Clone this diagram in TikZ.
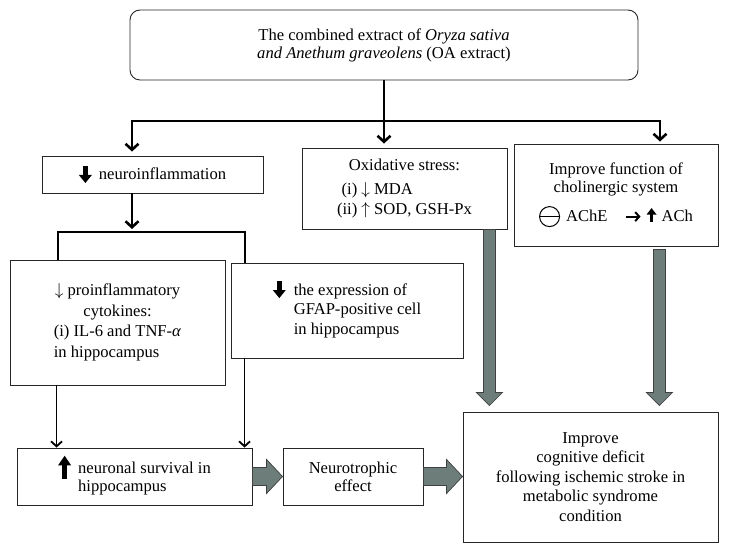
\documentclass[tikz,border=0pt]{standalone}
\usepackage{fontspec}
\setmainfont{Liberation Serif}
\usetikzlibrary{arrows.meta,calc}
\definecolor{arrowgray}{RGB}{108,125,122}
\newcommand\myDown{\tikz[x=1pt,y=1pt,baseline=3pt]{\fill[black] (-2.3,17) rectangle (2.3,7.5); \fill[black] (-6.5,8) -- (6.5,8) -- (0,0) -- cycle;}}
\newcommand\myUp{\tikz[x=1pt,y=1pt,baseline=5pt]{\fill[black] (-2.3,0) rectangle (2.3,14); \fill[black] (-6.5,13.5) -- (6.5,13.5) -- (0,23) -- cycle;}}
\newcommand\mySmallUp{\tikz[x=1pt,y=1pt,baseline=1pt]{\fill[black] (-1.8,0) rectangle (1.8,8); \fill[black] (-5,7.5) -- (5,7.5) -- (0,14) -- cycle;}}
\newcommand\myInhib{\tikz[x=1pt,y=1pt,baseline=-4.5pt]{\draw[black,line width=1pt] (0,0) circle (10pt); \draw[black,line width=1pt] (-10,0) -- (10,0);}}
\newcommand\myRight{\tikz[x=1pt,y=1pt,baseline=-4.5pt]{\draw[black,line width=2pt,-{Straight Barb[length=4pt,width=9pt]}] (0,0) -- (15,0);}}
\newcommand\fatH[2]{\filldraw[fat] let \p1=(#1), \p2=(#2) in (\x1,\y1+9pt) -- (\x2-16pt,\y1+9pt) -- (\x2-16pt,\y1+17pt) -- (\x2,\y1) -- (\x2-16pt,\y1-17pt) -- (\x2-16pt,\y1-9pt) -- (\x1,\y1-9pt) -- cycle;}
\newcommand\fatV[2]{\filldraw[fat] let \p1=(#1), \p2=(#2) in (\x1-6pt,\y1) -- (\x1+6pt,\y1) -- (\x1+6pt,\y2+13pt) -- (\x1+13pt,\y2+13pt) -- (\x1,\y2) -- (\x1-13pt,\y2+13pt) -- (\x1-6pt,\y2+13pt) -- cycle;}
\tikzset{
  fs/.style={font=\fontsize{16.6}{19.5}\selectfont},
  box/.style={draw=black!85, line width=0.9pt, fill=white, inner sep=0pt, align=center, fs},
  trunk/.style={line width=2.6pt},
  harr/.style={trunk, -{Straight Barb[length=6pt,width=13pt]}},
  tarr/.style={line width=1.8pt, -{Straight Barb[length=5pt,width=11pt]}},
  fat/.style={fill=arrowgray, draw=black!75, line width=0.7pt},
}
\begin{document}
\begin{tikzpicture}[x=1pt,y=-1pt]
\useasboundingbox (0,0) rectangle (729,553);
% boxes
\node[box, rounded corners=10pt, minimum width=508pt, minimum height=70pt] (top) at (384,45)
  {The combined extract of \textit{Oryza sativa}\\[-1.5pt]\textit{and Anethum graveolens} (OA extract)};
\node[box, minimum width=221pt, minimum height=37pt] (neuro) at (152.5,174.5)
  {\myDown\hspace{7pt}neuroinflammation};
\node[box, minimum width=205pt, minimum height=81pt] (ox) at (404.5,188.5)
  {\raisebox{2.5pt}{\begin{tabular}{@{}r@{\hspace{4pt}}l@{}}\multicolumn{2}{@{}c@{}}{Oxidative stress:}\\[4.5pt](i) & $\downarrow$ MDA\\(ii) & $\uparrow$ SOD, GSH-Px\end{tabular}}};
\node[box, minimum width=204pt, minimum height=102pt] (chol) at (616,195)
  {Improve function of\\[-1.5pt]cholinergic system\\[9pt]\myInhib\hspace{6pt}AChE\hspace{17pt}\myRight\hspace{5pt}\mySmallUp\hspace{5pt}ACh};
\node[box, minimum width=215pt, minimum height=125pt, font=\fontsize{16.6}{20.5}\selectfont] (b1) at (117.5,322.5)
  {\begin{tabular}{@{}l@{}}\multicolumn{1}{@{}c@{}}{$\downarrow$ proinflammatory}\\\multicolumn{1}{@{}c@{}}{cytokines:}\\(i) IL-6 and TNF-\textit{α}\\in hippocampus\end{tabular}};
\node[box, minimum width=232pt, minimum height=95pt] (b2) at (347,310.5)
  {\myDown\hspace{8pt}\begin{tabular}[t]{@{}l@{}}the expression of\\GFAP-positive cell\\in hippocampus\end{tabular}};
\node[box, minimum width=235pt, minimum height=57pt, font=\fontsize{16.6}{18}\selectfont] (neur) at (134.5,476.5)
  {\myUp\hspace{7pt}\begin{tabular}[t]{@{}l@{}}neuronal survival in\\hippocampus\end{tabular}};
\node[box, minimum width=140pt, minimum height=57pt, font=\fontsize{16.6}{18}\selectfont] (troph) at (353,476.5)
  {Neurotrophic\\effect};
\node[box, minimum width=255pt, minimum height=130pt] (cog) at (590.5,477)
  {Improve\\cognitive deficit\\following ischemic stroke in\\metabolic syndrome\\condition};
% trunk connectors
\coordinate (jl) at (132,121);
\coordinate (jr) at (660,121);
\draw[trunk, {Straight Barb[length=6pt,width=13pt]}-{Straight Barb[length=6pt,width=13pt]}]
  ($(jl |- neuro.north)+(0,-4)$) -- (jl) -- (jr) -- ($(jr |- chol.north)+(0,-2)$);
\draw[harr] (top.south) -- ($(top.south |- ox.north)+(0,-4)$);
\coordinate (jd) at (132,229);
\draw[harr] (neuro.south -| jd) -- (jd);
\coordinate (jb1) at (58,232);
\coordinate (jb2) at (245,232);
\draw[trunk] (jb1 |- b1.north) -- (jb1) -- (jb2) -- (jb2 |- b2.north);
% thin arrows
\coordinate (t1) at ($(b1.south west)+(47,0)$);
\coordinate (t2) at ($(b2.south west)+(14,0)$);
\draw[tarr] (t1) -- (t1 |- neur.north);
\draw[tarr] (t2) -- (t2 |- neur.north);
% fat arrows
\fatH{neur.east}{troph.west}
\fatH{troph.east}{cog.west}
\coordinate (oxs) at ($(ox.south east)+(-18,0)$);
\coordinate (oxt) at ($(oxs |- cog.north)+(0,-6)$);
\fatV{oxs}{oxt}
\coordinate (chs) at ($(chol.south east)+(-59,3)$);
\coordinate (cht) at ($(chs |- cog.north)+(0,-6)$);
\fatV{chs}{cht}
\end{tikzpicture}
\end{document}
